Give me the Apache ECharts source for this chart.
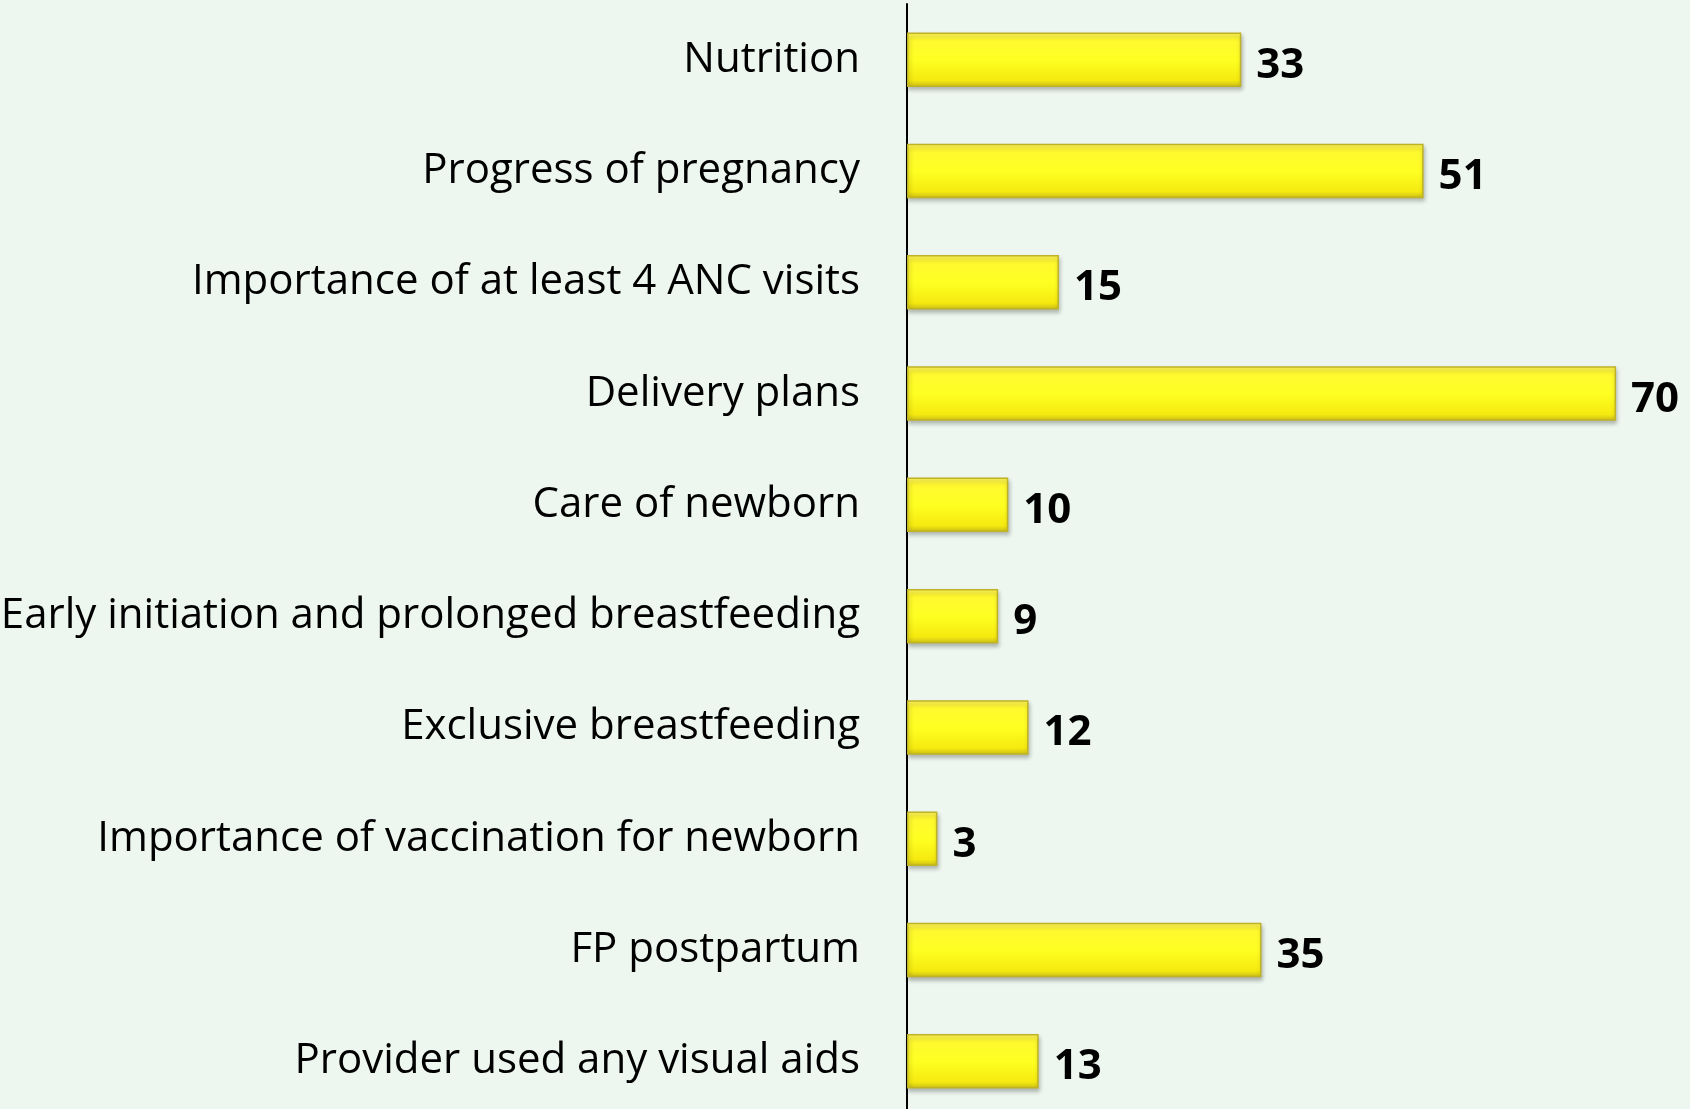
<!DOCTYPE html>
<html>
<head>
<meta charset="utf-8">
<style>
  html, body { margin: 0; padding: 0; background: #EDF7EF; }
  #chart { width: 1690px; height: 1109px; }
</style>
<script src="https://cdn.jsdelivr.net/npm/echarts@6/dist/echarts.min.js"></script>
</head>
<body>
<div id="chart"></div>
<script>
const categories = [
  "Nutrition",
  "Progress of pregnancy",
  "Importance of at least 4 ANC visits",
  "Delivery plans",
  "Care of newborn",
  "Early initiation and prolonged breastfeeding",
  "Exclusive breastfeeding",
  "Importance of vaccination for newborn",
  "FP postpartum",
  "Provider used any visual aids"
];
const values = [33, 51, 15, 70, 10, 9, 12, 3, 35, 13];

const chart = echarts.init(document.getElementById('chart'), null, { renderer: 'canvas' });
chart.setOption({
  backgroundColor: '#EDF7EF',
  animation: false,
  grid: { left: 907, top: 4, width: 780, height: 1113, containLabel: false, outerBoundsMode: 'none' },
  xAxis: {
    type: 'value', min: 0, max: 77,
    show: false
  },
  yAxis: {
    type: 'category', data: categories, inverse: true,
    axisLine: { show: true, lineStyle: { color: '#000', width: 2 } },
    axisTick: { show: false },
    axisLabel: {
      margin: 47,
      color: '#000',
      fontFamily: 'Open Sans',
      fontSize: 42,
      padding: [11, 0, 0, 0]
    }
  },
  series: [{
    type: 'bar',
    data: values,
    barWidth: '49%',
    itemStyle: {
      color: new echarts.graphic.LinearGradient(0, 0, 0, 1, [
        { offset: 0, color: '#FFF560' },
        { offset: 0.12, color: '#FFF830' },
        { offset: 0.5, color: '#FFFF22' },
        { offset: 0.88, color: '#F5EA10' },
        { offset: 1, color: '#C9BC18' }
      ]),
      borderColor: '#BFB325',
      borderWidth: 1.5,
      shadowColor: 'rgba(0,0,0,0.25)',
      shadowBlur: 4,
      shadowOffsetX: 1,
      shadowOffsetY: 3
    },
    label: {
      show: true,
      position: 'right',
      distance: 15,
      offset: [0, 6],
      color: '#000',
      fontFamily: 'Open Sans',
      fontWeight: 'bold',
      fontSize: 42
    }
  }]
});
</script>
</body>
</html>
